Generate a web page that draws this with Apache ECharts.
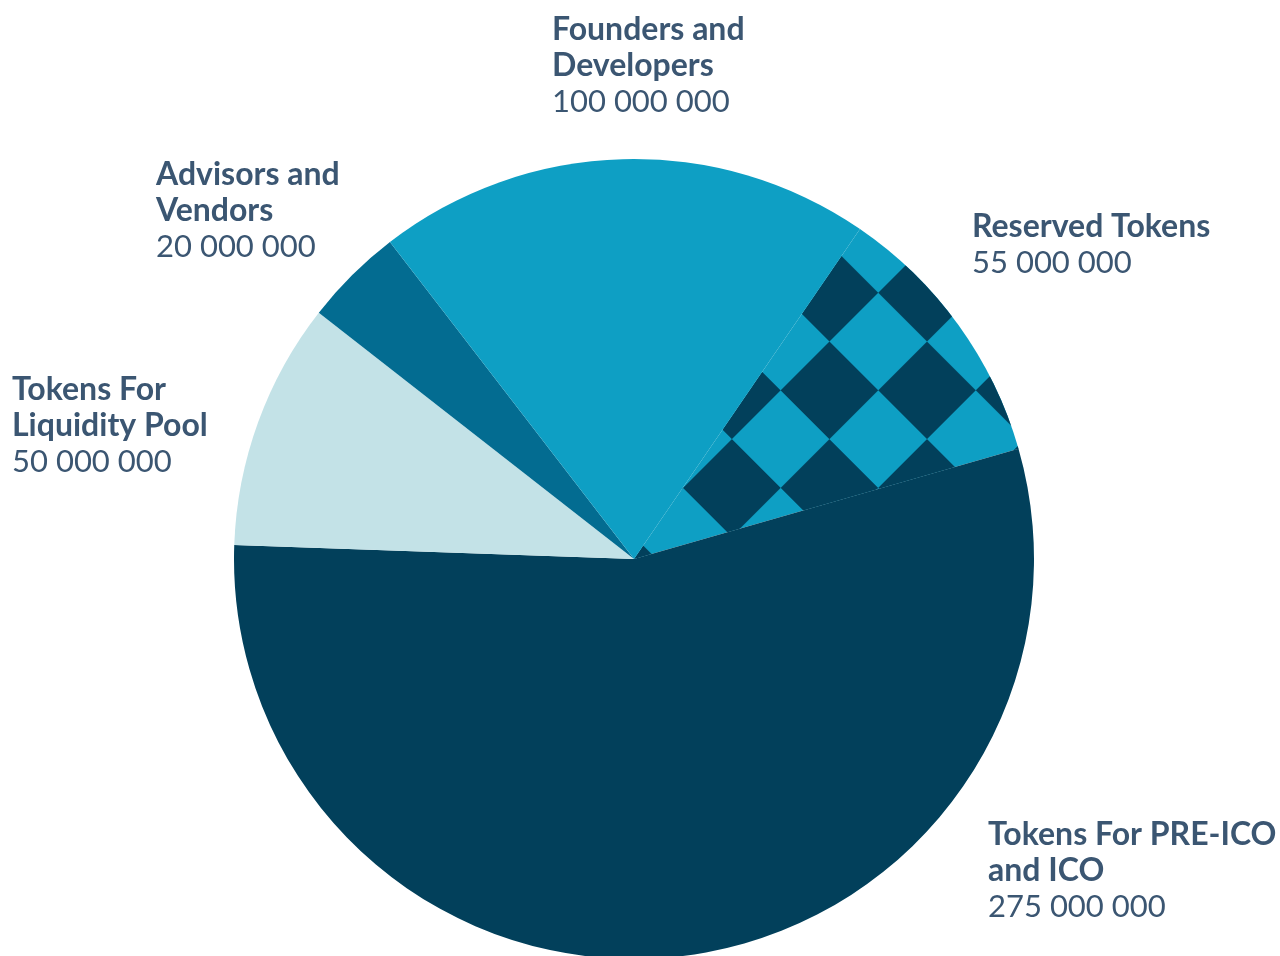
<!DOCTYPE html>
<html>
<head>
<meta charset="utf-8">
<title>Token distribution</title>
<script src="https://cdn.jsdelivr.net/npm/echarts@6/dist/echarts.min.js"></script>
<style>
  html, body { margin: 0; padding: 0; background: #fff; }
  #chart { width: 1280px; height: 956px; }
</style>
</head>
<body>
<div id="chart"></div>
<script>
// data, in drawing order (clockwise)
var categories = [
  'Reserved Tokens',
  'Tokens For PRE-ICO\nand ICO',
  'Tokens For\nLiquidity Pool',
  'Advisors and\nVendors',
  'Founders and\nDevelopers'
];
var tokens = [55000000, 275000000, 50000000, 20000000, 100000000];
var colors = ['#0e9fc4', '#02405b', '#c3e2e7', '#036c91', '#0e9fc4'];

// label anchors (top-left of each text block)
var labelPos = [
  [972, 208],
  [988, 816],
  [12, 371],
  [156, 156],
  [552, 11]
];

function fmt(v) {
  return String(v).replace(/\B(?=(\d{3})+(?!\d))/g, ' ');
}

var myChart = echarts.init(document.getElementById('chart'));
var total = tokens.reduce(function (a, b) { return a + b; }, 0);
// first slice ends 16 deg above the right horizontal
var startAngle = 16 + tokens[0] / total * 360;

var data = categories.map(function (name, i) {
  var item = {
    name: name,
    value: tokens[i],
    itemStyle: { color: colors[i] }
  };
  if (i === 0) {
    // checkered fill of the reserved slice
    item.itemStyle.decal = {
      symbol: 'rect',
      symbolSize: 1,
      color: '#02405b',
      dashArrayX: [[69, 69], [0, 69, 69, 0]],
      dashArrayY: [69, 0],
      rotation: Math.PI / 4
    };
  }
  return item;
});

var option = {
  animation: false,
  series: [
    {
      type: 'pie',
      center: [634, 559],
      radius: 400,
      startAngle: startAngle,
      clockwise: true,
      avoidLabelOverlap: false,
      itemStyle: { borderWidth: 0 },
      label: {
        show: true,
        position: 'outside',
        formatter: function (p) {
          var lines = p.name.split('\n').map(function (s) { return '{n|' + s + '}'; });
          lines.push('{v|' + fmt(p.value) + '}');
          return lines.join('\n');
        },
        rich: {
          n: { fontFamily: 'Lato', fontWeight: 'bold', fontSize: 32, lineHeight: 36.5, color: '#3b5672' },
          v: { fontFamily: 'Lato', fontSize: 31, lineHeight: 36.5, color: '#3b5672' }
        }
      },
      labelLine: { show: false },
      labelLayout: function (params) {
        var pos = labelPos[params.dataIndex];
        return { x: pos[0], y: pos[1], align: 'left', verticalAlign: 'top' };
      },
      emphasis: { disabled: true },
      data: data
    }
  ]
};

myChart.setOption(option);
</script>
</body>
</html>
